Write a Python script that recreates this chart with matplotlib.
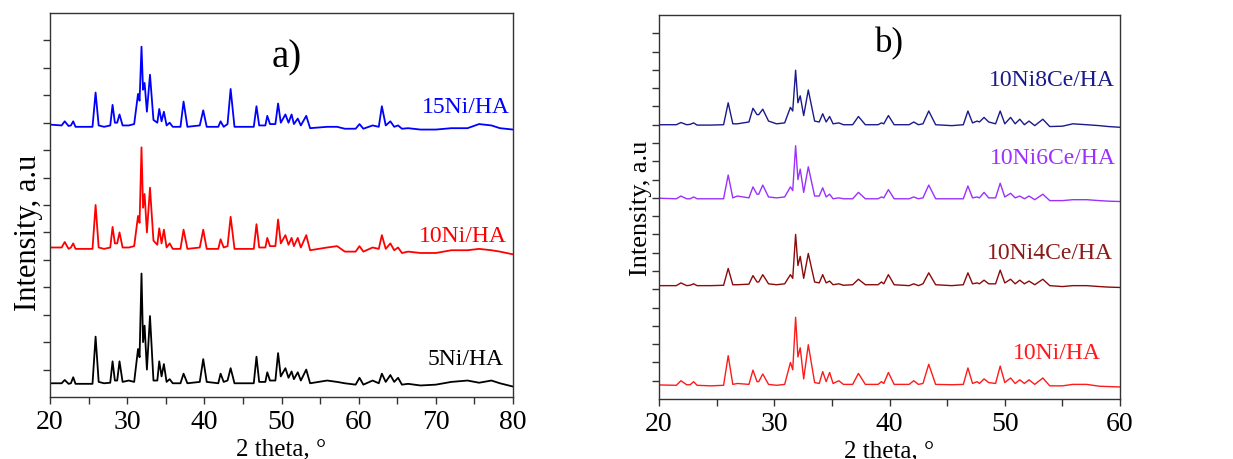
import numpy as np
import matplotlib
matplotlib.use("Agg")
import matplotlib.pyplot as plt

plt.rcParams['font.family'] = ['Liberation Serif', 'DejaVu Serif']

# ---- panel a : 2theta vertices shared by the three patterns ----
tt_a = [20.0, 21.5, 21.9, 22.4, 22.7, 23.0, 23.3,
        25.5, 25.9, 26.3, 27.0, 27.8, 28.1, 28.4, 28.7, 29.0, 29.4, 30.2,
        30.9, 31.4, 31.6, 31.85, 32.05, 32.25, 32.55, 32.95, 33.4,
        33.9, 34.15, 34.45, 34.75, 35.1, 35.5, 35.9,
        36.9, 37.3, 37.8, 39.4, 39.85, 40.3, 41.8, 42.1, 42.5, 43.0, 43.4, 43.9,
        45.5, 46.4, 46.75, 47.1, 47.9, 48.15, 48.5, 49.2, 49.55, 49.9,
        50.5, 50.9, 51.3, 51.6, 52.1, 52.5, 53.2, 53.7,
        55.9, 57.2, 58.2, 59.6, 60.1, 60.6, 61.8, 62.6, 63.0, 63.5, 64.1, 64.6, 65.1, 65.6,
        66.4, 68.0, 70.0, 72.0, 74.1, 75.6, 77.2, 78.3, 80.0]

ni5 = [0.50, 0.50, 0.62, 0.48, 0.50, 0.72, 0.48,
       0.48, 2.20, 0.55, 0.50, 0.52, 1.30, 0.60, 0.60, 1.30, 0.55, 0.60,
       0.55, 1.75, 1.45, 4.50, 2.00, 2.60, 1.00, 2.95, 0.60,
       0.60, 1.30, 0.75, 1.20, 0.55, 0.65, 0.50,
       0.50, 0.85, 0.50, 0.55, 1.38, 0.55, 0.50, 0.85, 0.55, 0.60, 1.05, 0.50,
       0.50, 0.50, 1.47, 0.55, 0.55, 0.90, 0.60, 0.60, 1.60, 0.75,
       1.05, 0.70, 0.93, 0.65, 0.90, 0.60, 1.00, 0.50,
       0.60, 0.55, 0.50, 0.45, 0.70, 0.45, 0.60, 0.50, 0.85, 0.55, 0.80, 0.55, 0.70, 0.45,
       0.48, 0.42, 0.45, 0.55, 0.60, 0.52, 0.60, 0.50, 0.38]

ni10 = [5.45, 5.45, 5.65, 5.40, 5.45, 5.60, 5.40,
        5.40, 7.00, 5.45, 5.40, 5.45, 6.20, 5.60, 5.60, 6.00, 5.45, 5.45,
        5.50, 6.60, 6.35, 9.10, 6.90, 7.40, 6.00, 7.63, 5.70,
        5.55, 6.15, 5.60, 6.10, 5.45, 5.60, 5.40,
        5.40, 6.10, 5.40, 5.45, 6.10, 5.40, 5.40, 5.75, 5.45, 5.50, 6.57, 5.40,
        5.40, 5.40, 6.30, 5.45, 5.45, 5.80, 5.50, 5.50, 6.47, 5.60,
        5.90, 5.55, 5.80, 5.50, 5.80, 5.45, 5.90, 5.35,
        5.45, 5.50, 5.30, 5.30, 5.50, 5.30, 5.45, 5.40, 5.90, 5.40, 5.60, 5.35, 5.45, 5.25,
        5.30, 5.25, 5.25, 5.35, 5.35, 5.40, 5.35, 5.30, 5.20]

ni15 = [9.93, 9.90, 10.05, 9.88, 9.90, 10.05, 9.85,
        9.85, 11.10, 9.90, 9.85, 9.90, 10.65, 10.00, 10.00, 10.30, 9.90, 9.90,
        9.95, 11.05, 10.80, 12.77, 11.20, 11.45, 10.40, 11.75, 10.10,
        10.00, 10.50, 10.05, 10.40, 9.90, 10.00, 9.85,
        9.85, 10.77, 9.85, 9.90, 10.45, 9.85, 9.85, 10.05, 9.85, 9.95, 11.23, 9.85,
        9.85, 9.85, 10.60, 9.90, 9.90, 10.25, 9.95, 9.95, 10.70, 10.00,
        10.30, 10.00, 10.30, 9.95, 10.15, 9.90, 10.25, 9.80,
        9.85, 9.85, 9.78, 9.78, 9.95, 9.78, 9.90, 9.85, 10.60, 9.90, 10.05, 9.85, 9.90, 9.78,
        9.80, 9.75, 9.75, 9.80, 9.80, 9.95, 9.90, 9.80, 9.75]

# ---- panel b ----
tt_b = [20.0, 21.5, 21.9, 22.4, 22.7, 23.0, 23.3, 24.5,
        25.6, 26.0, 26.4, 26.8, 27.8, 28.15, 28.5, 28.65, 29.0, 29.5, 30.2,
        30.9, 31.4, 31.6, 31.85, 32.05, 32.25, 32.55, 32.95, 33.5,
        33.9, 34.2, 34.5, 34.8, 35.1, 35.6, 36.0,
        36.8, 37.3, 37.9, 39.0, 39.3, 39.5, 39.9, 40.4, 41.7, 42.1, 42.5, 42.9, 43.4, 44.0,
        45.4, 46.4, 46.8, 47.2, 47.6, 47.8, 48.2, 48.6, 49.2, 49.6, 50.0,
        50.5, 50.9, 51.3, 51.7, 52.1, 52.6, 53.3, 53.9,
        55.0, 55.9, 57.1, 58.2, 59.0, 60.0]

b_ni10 = [0.77, 0.75, 1.00, 0.78, 0.78, 0.95, 0.75, 0.72,
          0.75, 2.37, 0.80, 0.85, 0.80, 1.58, 0.95, 0.95, 1.37, 0.80, 0.75,
          0.80, 2.00, 1.60, 4.47, 2.30, 2.80, 1.10, 2.97, 0.90,
          0.85, 1.50, 0.95, 1.45, 0.85, 1.00, 0.80,
          0.80, 1.40, 0.80, 0.80, 0.95, 0.85, 1.45, 0.80, 0.80, 1.00, 0.80, 0.85, 1.90, 0.80,
          0.78, 0.80, 1.70, 0.85, 0.95, 0.85, 1.10, 0.90, 0.85, 1.80, 0.90,
          1.15, 0.85, 1.05, 0.85, 1.05, 0.80, 1.15, 0.72,
          0.72, 0.80, 0.80, 0.70, 0.68, 0.66]

b_ni10ce4 = [6.20, 6.20, 6.35, 6.20, 6.22, 6.30, 6.20, 6.20,
             6.22, 7.14, 6.25, 6.25, 6.28, 6.75, 6.40, 6.40, 6.80, 6.30, 6.25,
             6.30, 6.80, 6.60, 9.00, 7.30, 7.80, 6.60, 7.96, 6.40,
             6.35, 6.80, 6.35, 6.45, 6.25, 6.30, 6.22,
             6.25, 6.55, 6.25, 6.25, 6.40, 6.30, 6.80, 6.25, 6.20, 6.30, 6.20, 6.30, 6.90, 6.25,
             6.20, 6.25, 6.90, 6.30, 6.35, 6.30, 6.50, 6.30, 6.30, 7.05, 6.35,
             6.55, 6.30, 6.50, 6.30, 6.45, 6.25, 6.55, 6.20,
             6.15, 6.20, 6.20, 6.15, 6.12, 6.10]

b_ni10ce6 = [10.98, 10.95, 11.10, 10.95, 10.95, 11.05, 10.95, 10.95,
             10.95, 12.25, 11.00, 11.10, 11.00, 11.60, 11.20, 11.20, 11.70, 11.05, 11.00,
             11.05, 11.60, 11.40, 13.85, 12.00, 12.57, 11.30, 12.70, 11.10,
             11.10, 11.55, 11.05, 11.20, 10.95, 11.00, 10.95,
             10.95, 11.30, 10.95, 10.95, 11.05, 11.00, 11.45, 10.95, 10.95, 11.05, 10.95, 11.00, 11.70, 10.95,
             10.95, 10.95, 11.65, 11.00, 11.05, 11.00, 11.30, 11.00, 11.00, 11.80, 11.05,
             11.25, 11.00, 11.10, 10.95, 11.10, 10.90, 11.20, 10.85,
             10.85, 10.90, 10.90, 10.85, 10.82, 10.80]

b_ni10ce8 = [15.00, 15.00, 15.12, 15.00, 15.02, 15.10, 14.98, 14.98,
             15.00, 16.20, 15.05, 15.05, 15.15, 15.90, 15.55, 15.55, 15.85, 15.20, 15.05,
             15.10, 15.95, 15.75, 17.98, 16.20, 16.58, 15.50, 16.90, 15.20,
             15.15, 15.60, 15.15, 15.45, 15.05, 15.10, 15.00,
             15.00, 15.45, 15.00, 15.00, 15.10, 15.05, 15.50, 15.00, 15.00, 15.15, 15.00, 15.05, 15.75, 15.00,
             14.95, 15.00, 15.75, 15.10, 15.20, 15.15, 15.40, 15.15, 15.05, 15.75, 15.05,
             15.40, 15.05, 15.30, 15.00, 15.20, 14.95, 15.30, 14.90,
             14.92, 15.05, 15.00, 14.95, 14.90, 14.86]

fig = plt.figure(figsize=(12.33, 4.6), dpi=100)
ax1 = fig.add_axes([0.0406, 0.1348, 0.3755, 0.8348])
ax2 = fig.add_axes([0.5345, 0.1304, 0.3739, 0.8348])

ax1.plot(tt_a, ni5, color='black', lw=1.3)
ax1.plot(tt_a, ni10, color='#ff0000', lw=1.3)
ax1.plot(tt_a, ni15, color='#0000ff', lw=1.3)
ax1.set_xlim(20, 80)
ax1.set_ylim(0, 14)
ax1.set_xticks(np.arange(20, 81, 10))
ax1.set_xticks(np.arange(25, 80, 10), minor=True)
ax1.set_yticks(np.arange(1, 14, 1))
ax1.text(50.7, 12.4, 'a)', fontsize=28, ha='center', va='center')
ax1.text(79.6, 10.6, '15Ni/HA', color='#0000ff', fontsize=17, ha='right', va='center')
ax1.text(79.2, 5.9, '10Ni/HA', color='#ff0000', fontsize=17, ha='right', va='center')
ax1.text(78.8, 1.42, '5Ni/HA', color='black', fontsize=17, ha='right', va='center')
ax1.set_ylabel('Intensity, a.u', fontsize=22)
ax1.yaxis.set_label_coords(-0.016, 0.43)

ax2.plot(tt_b, b_ni10, color='#ff1a1a', lw=1.0)
ax2.plot(tt_b, b_ni10ce4, color='#8b0a0a', lw=1.0)
ax2.plot(tt_b, b_ni10ce6, color='#9b30ff', lw=1.0)
ax2.plot(tt_b, b_ni10ce8, color='#1a1a8c', lw=1.0)
ax2.set_xlim(20, 60)
ax2.set_ylim(0, 21)
ax2.set_xticks(np.arange(20, 61, 10))
ax2.set_xticks(np.arange(25, 60, 10), minor=True)
ax2.set_yticks(np.arange(1, 21, 1))
ax2.text(39.96, 19.5, 'b)', fontsize=25, ha='center', va='center')
ax2.text(59.57, 17.5, '10Ni8Ce/HA', color='#1a1a8c', fontsize=17, ha='right', va='center')
ax2.text(59.65, 13.2, '10Ni6Ce/HA', color='#9b30ff', fontsize=17, ha='right', va='center')
ax2.text(59.4, 8.0, '10Ni4Ce/HA', color='#8b1a1a', fontsize=17, ha='right', va='center')
ax2.text(58.35, 2.57, '10Ni/HA', color='#ff1a1a', fontsize=17, ha='right', va='center')
ax2.set_ylabel('Intensity, a.u', fontsize=19)
ax2.yaxis.set_label_coords(-0.015, 0.5)

for ax in (ax1, ax2):
    ax.set_xlabel('2 theta, \u00b0', fontsize=18)
    ax.xaxis.set_label_coords(0.5, -0.105)
    ax.tick_params(which='both', direction='out', length=5, width=1, color='#333333',
                   labelsize=20, right=False, top=False)
    ax.tick_params(axis='y', labelleft=False)
    for s in ax.spines.values():
        s.set_color('#333333')
        s.set_linewidth(1)

fig.savefig('out.png', dpi=100)
